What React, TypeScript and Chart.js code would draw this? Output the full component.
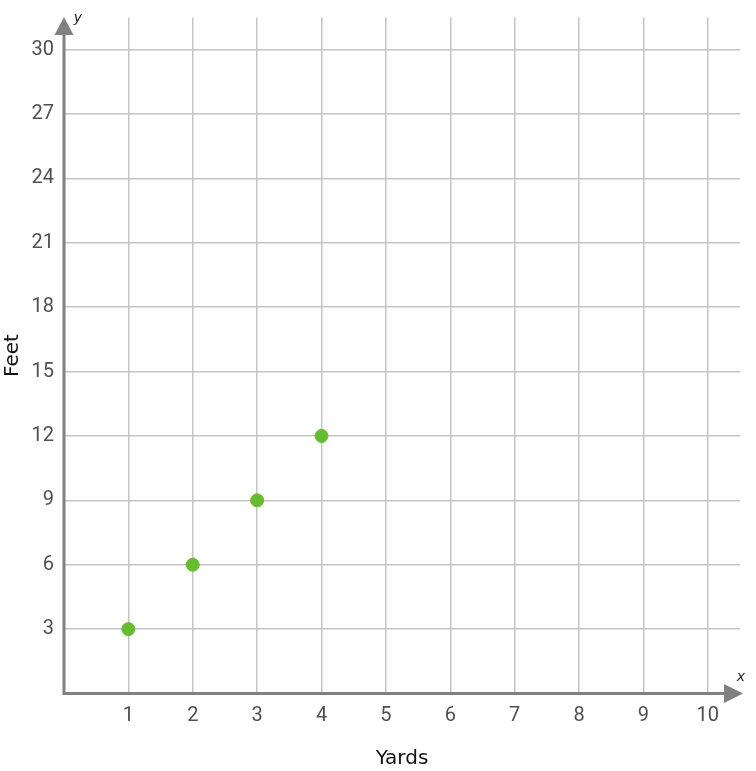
import React, { useEffect, useRef } from "react";
import { Chart, registerables } from "chart.js";

Chart.register(...registerables);

const yards = [1, 2, 3, 4];
const feet = [3, 6, 9, 12];
const xTicks = [1, 2, 3, 4, 5, 6, 7, 8, 9, 10];
const yTicks = [3, 6, 9, 12, 15, 18, 21, 24, 27, 30];
const xTitle = "Yards";
const yTitle = "Feet";

const axisColor = "#808080";

const arrowPlugin = {
  id: "arrowAxes",
  afterDatasetsDraw(chart: any) {
    const { ctx, chartArea } = chart;
    const x0 = chart.scales.x.getPixelForValue(0);
    const y0 = chart.scales.y.getPixelForValue(0);
    const top = 17;
    ctx.save();
    ctx.strokeStyle = axisColor;
    ctx.fillStyle = axisColor;
    ctx.lineWidth = 3;
    ctx.beginPath();
    ctx.moveTo(x0, y0 + 1.5);
    ctx.lineTo(x0, top + 10);
    ctx.moveTo(x0 - 1.5, y0);
    ctx.lineTo(chartArea.right - 8, y0);
    ctx.stroke();
    // y arrow
    ctx.beginPath();
    ctx.moveTo(x0, top);
    ctx.lineTo(x0 + 9.5, top + 18);
    ctx.lineTo(x0 - 9.5, top + 18);
    ctx.closePath();
    ctx.fill();
    // x arrow
    const tipX = chartArea.right + 3;
    ctx.beginPath();
    ctx.moveTo(tipX, y0);
    ctx.lineTo(tipX - 19, y0 - 9.5);
    ctx.lineTo(tipX - 19, y0 + 9.5);
    ctx.closePath();
    ctx.fill();
    // axis letters
    ctx.fillStyle = "#222";
    ctx.font = "italic 14px 'DejaVu Sans'";
    ctx.textAlign = "center";
    ctx.textBaseline = "middle";
    ctx.fillText("y", x0 + 14, top + 1);
    ctx.fillText("x", tipX - 2, y0 - 16);
    ctx.restore();
  },
};

export default function App() {
  const ref = useRef<HTMLCanvasElement>(null);
  useEffect(() => {
    document.body.style.margin = "0";
    const chart = new Chart(ref.current!, {
      type: "scatter",
      data: {
        datasets: [
          {
            data: yards.map((x, i) => ({ x, y: feet[i] })),
            backgroundColor: "#65bc2e",
            borderColor: "#65bc2e",
            pointRadius: 6.5,
            pointHoverRadius: 6.5,
          },
        ],
      },
      options: {
        animation: false,
        responsive: false,
        maintainAspectRatio: false,
        layout: { padding: { top: 17.5, right: 16, left: 0, bottom: 0 } },
        plugins: { legend: { display: false }, tooltip: { enabled: false } },
        scales: {
          x: {
            type: "linear",
            min: 0,
            max: 10.5,
            afterBuildTicks: (s: any) => {
              s.ticks = xTicks.map((v) => ({ value: v }));
            },
            afterFit: (s: any) => {
              s.height = 77.5;
              s.paddingLeft = 0;
              s.paddingRight = 0;
            },
            grid: { color: "#c4c4c4", lineWidth: 1.5, drawTicks: false },
            border: { display: false },
            ticks: {
              color: "#505050",
              font: { family: "Roboto", size: 20 },
              padding: 10,
              autoSkip: false,
              maxRotation: 0,
            },
            title: {
              display: true,
              text: xTitle,
              color: "#111",
              font: { family: "DejaVu Sans", size: 20 },
              padding: { top: 0, bottom: 0 },
            },
          },
          y: {
            type: "linear",
            min: 0,
            max: 31.5,
            afterBuildTicks: (s: any) => {
              s.ticks = yTicks.map((v) => ({ value: v }));
            },
            afterFit: (s: any) => {
              s.width = 64;
              s.paddingTop = 0;
              s.paddingBottom = 0;
            },
            grid: { color: "#c4c4c4", lineWidth: 1.5, drawTicks: false },
            border: { display: false },
            ticks: {
              color: "#505050",
              font: { family: "Roboto", size: 20 },
              padding: 10,
              autoSkip: false,
            },
            title: {
              display: true,
              text: yTitle,
              color: "#111",
              font: { family: "DejaVu Sans", size: 20 },
              padding: { top: 1, bottom: 0 },
            },
          },
        },
      },
      plugins: [arrowPlugin],
    });
    return () => chart.destroy();
  }, []);
  return (
    <div style={{ position: "relative", width: 756, height: 771 }}>
      <canvas ref={ref} width={756} height={771} style={{ display: "block" }} />
    </div>
  );
}
